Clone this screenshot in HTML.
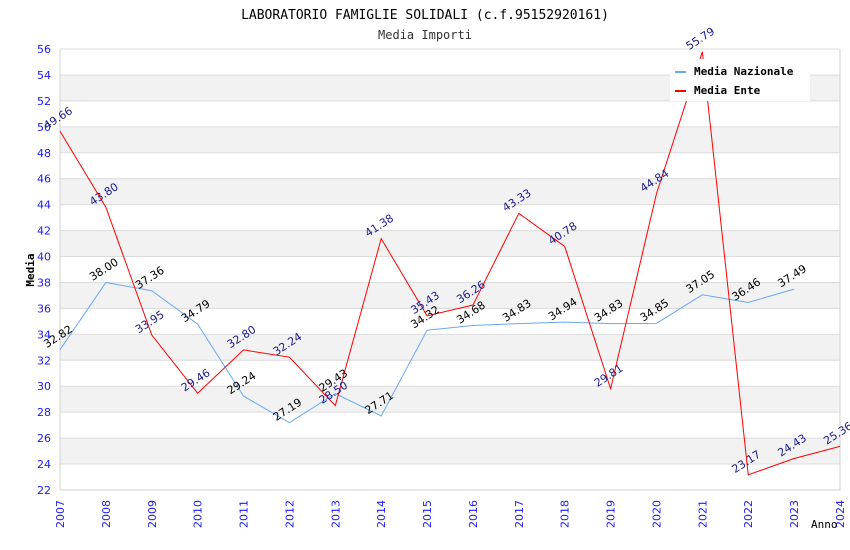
<!DOCTYPE html>
<html><head><meta charset="utf-8"><style>
body{margin:0;background:#fff;}
svg{display:block;font-family:"DejaVu Sans","Liberation Sans",sans-serif;}
</style></head><body>
<svg id="chart" width="850" height="550" viewBox="0 0 850 550">
<text x="425" y="19" text-anchor="middle" font-family="DejaVu Sans Mono, Liberation Mono, monospace" font-size="13" fill="#000">LABORATORIO FAMIGLIE SOLIDALI (c.f.95152920161)</text>
<text x="425" y="39" text-anchor="middle" font-family="DejaVu Sans Mono, Liberation Mono, monospace" font-size="12" fill="#333">Media Importi</text>
<g id="bands"></g><g id="grid"></g><g id="axes"></g><g id="lines"></g><g id="labels"></g>
<text x="34" y="270" transform="rotate(-90 34 270)" text-anchor="middle" font-family="DejaVu Sans Mono, monospace" font-size="11" font-weight="bold" fill="#000">Media</text>
<text x="811" y="528" font-family="DejaVu Sans Mono, monospace" font-size="11" fill="#000">Anno</text>
<g>
<rect x="670" y="59" width="140" height="42" fill="#fff"/>
<line x1="675" y1="72" x2="686" y2="72" stroke="#6aaaf0" stroke-width="2"/>
<text x="694" y="75" font-family="DejaVu Sans Mono, monospace" font-size="11" font-weight="bold">Media Nazionale</text>
<line x1="675" y1="91" x2="686" y2="91" stroke="#f00" stroke-width="2"/>
<text x="694" y="94" font-family="DejaVu Sans Mono, monospace" font-size="11" font-weight="bold">Media Ente</text>
</g>
</svg>
<script>
const years=[2007,2008,2009,2010,2011,2012,2013,2014,2015,2016,2017,2018,2019,2020,2021,2022,2023,2024];
const nazionale=[32.82,38.00,37.36,34.79,29.24,27.19,29.43,27.71,34.32,34.68,34.83,34.94,34.83,34.85,37.05,36.46,37.49];
const ente=[49.66,43.80,33.95,29.46,32.80,32.24,28.50,41.38,35.43,36.26,43.33,40.78,29.81,44.84,55.79,23.17,24.43,25.36];
const yTicks=[22,24,26,28,30,32,34,36,38,40,42,44,46,48,50,52,54,56];
const L=60,R=840,T=49,B=490,yMin=22,yMax=56;
const NS="http://www.w3.org/2000/svg";
const xs=i=>L+(R-L)*i/(years.length-1);
const ys=v=>B-(v-yMin)/(yMax-yMin)*(B-T);
function mk(tag,attrs,parent){const e=document.createElementNS(NS,tag);for(const k in attrs)e.setAttribute(k,attrs[k]);document.getElementById(parent).appendChild(e);return e;}
for(let j=0;j<yTicks.length-1;j++){
  const a=yTicks[j],b=yTicks[j+1];
  if(j%2===1){const r=mk('rect',{x:L,y:ys(b),width:R-L,height:ys(a)-ys(b),fill:'#f2f2f2'},'bands');
  
  }
}
yTicks.forEach(v=>{
  const l=mk('line',{x1:L,x2:R,y1:ys(v),y2:ys(v),stroke:'#dcdcdc','stroke-width':1},'grid');
  
  
  const t=mk('text',{x:L-9,y:ys(v)+4,'text-anchor':'end','font-size':11,fill:'#1a1aff'},'axes');
  t.textContent=v;
  
  
});
const ax=mk('path',{d:`M${L},${T}V${B}H${R}V${T}`,fill:'none',stroke:'#d0d0d0'},'axes');


years.forEach((y,i)=>{
  const x=xs(i)+4;
  const t=mk('text',{x:x,y:528,transform:`rotate(-90 ${x} 528)`,'font-size':11,fill:'#1a1aff'},'axes');
  t.textContent=y;
  
  
});
function series(vals,color,labColor,name){
  const p=mk('polyline',{points:vals.map((v,i)=>xs(i)+','+ys(v)).join(' '),fill:'none',stroke:color,'stroke-width':1},'lines');
  
  
  vals.forEach((v,i)=>{
    const x=xs(i),y=ys(v)-10;
    const t=mk('text',{x:x,y:y,'text-anchor':'middle','font-size':11,fill:labColor,transform:`rotate(-33 ${x} ${y})`},'labels');
    t.textContent=v.toFixed(2);
    
    
  });
}
series(nazionale,'#6aaaf0','#000','nazionale');
series(ente,'#f00','#1a1a8c','ente');
</script>
</body></html>
